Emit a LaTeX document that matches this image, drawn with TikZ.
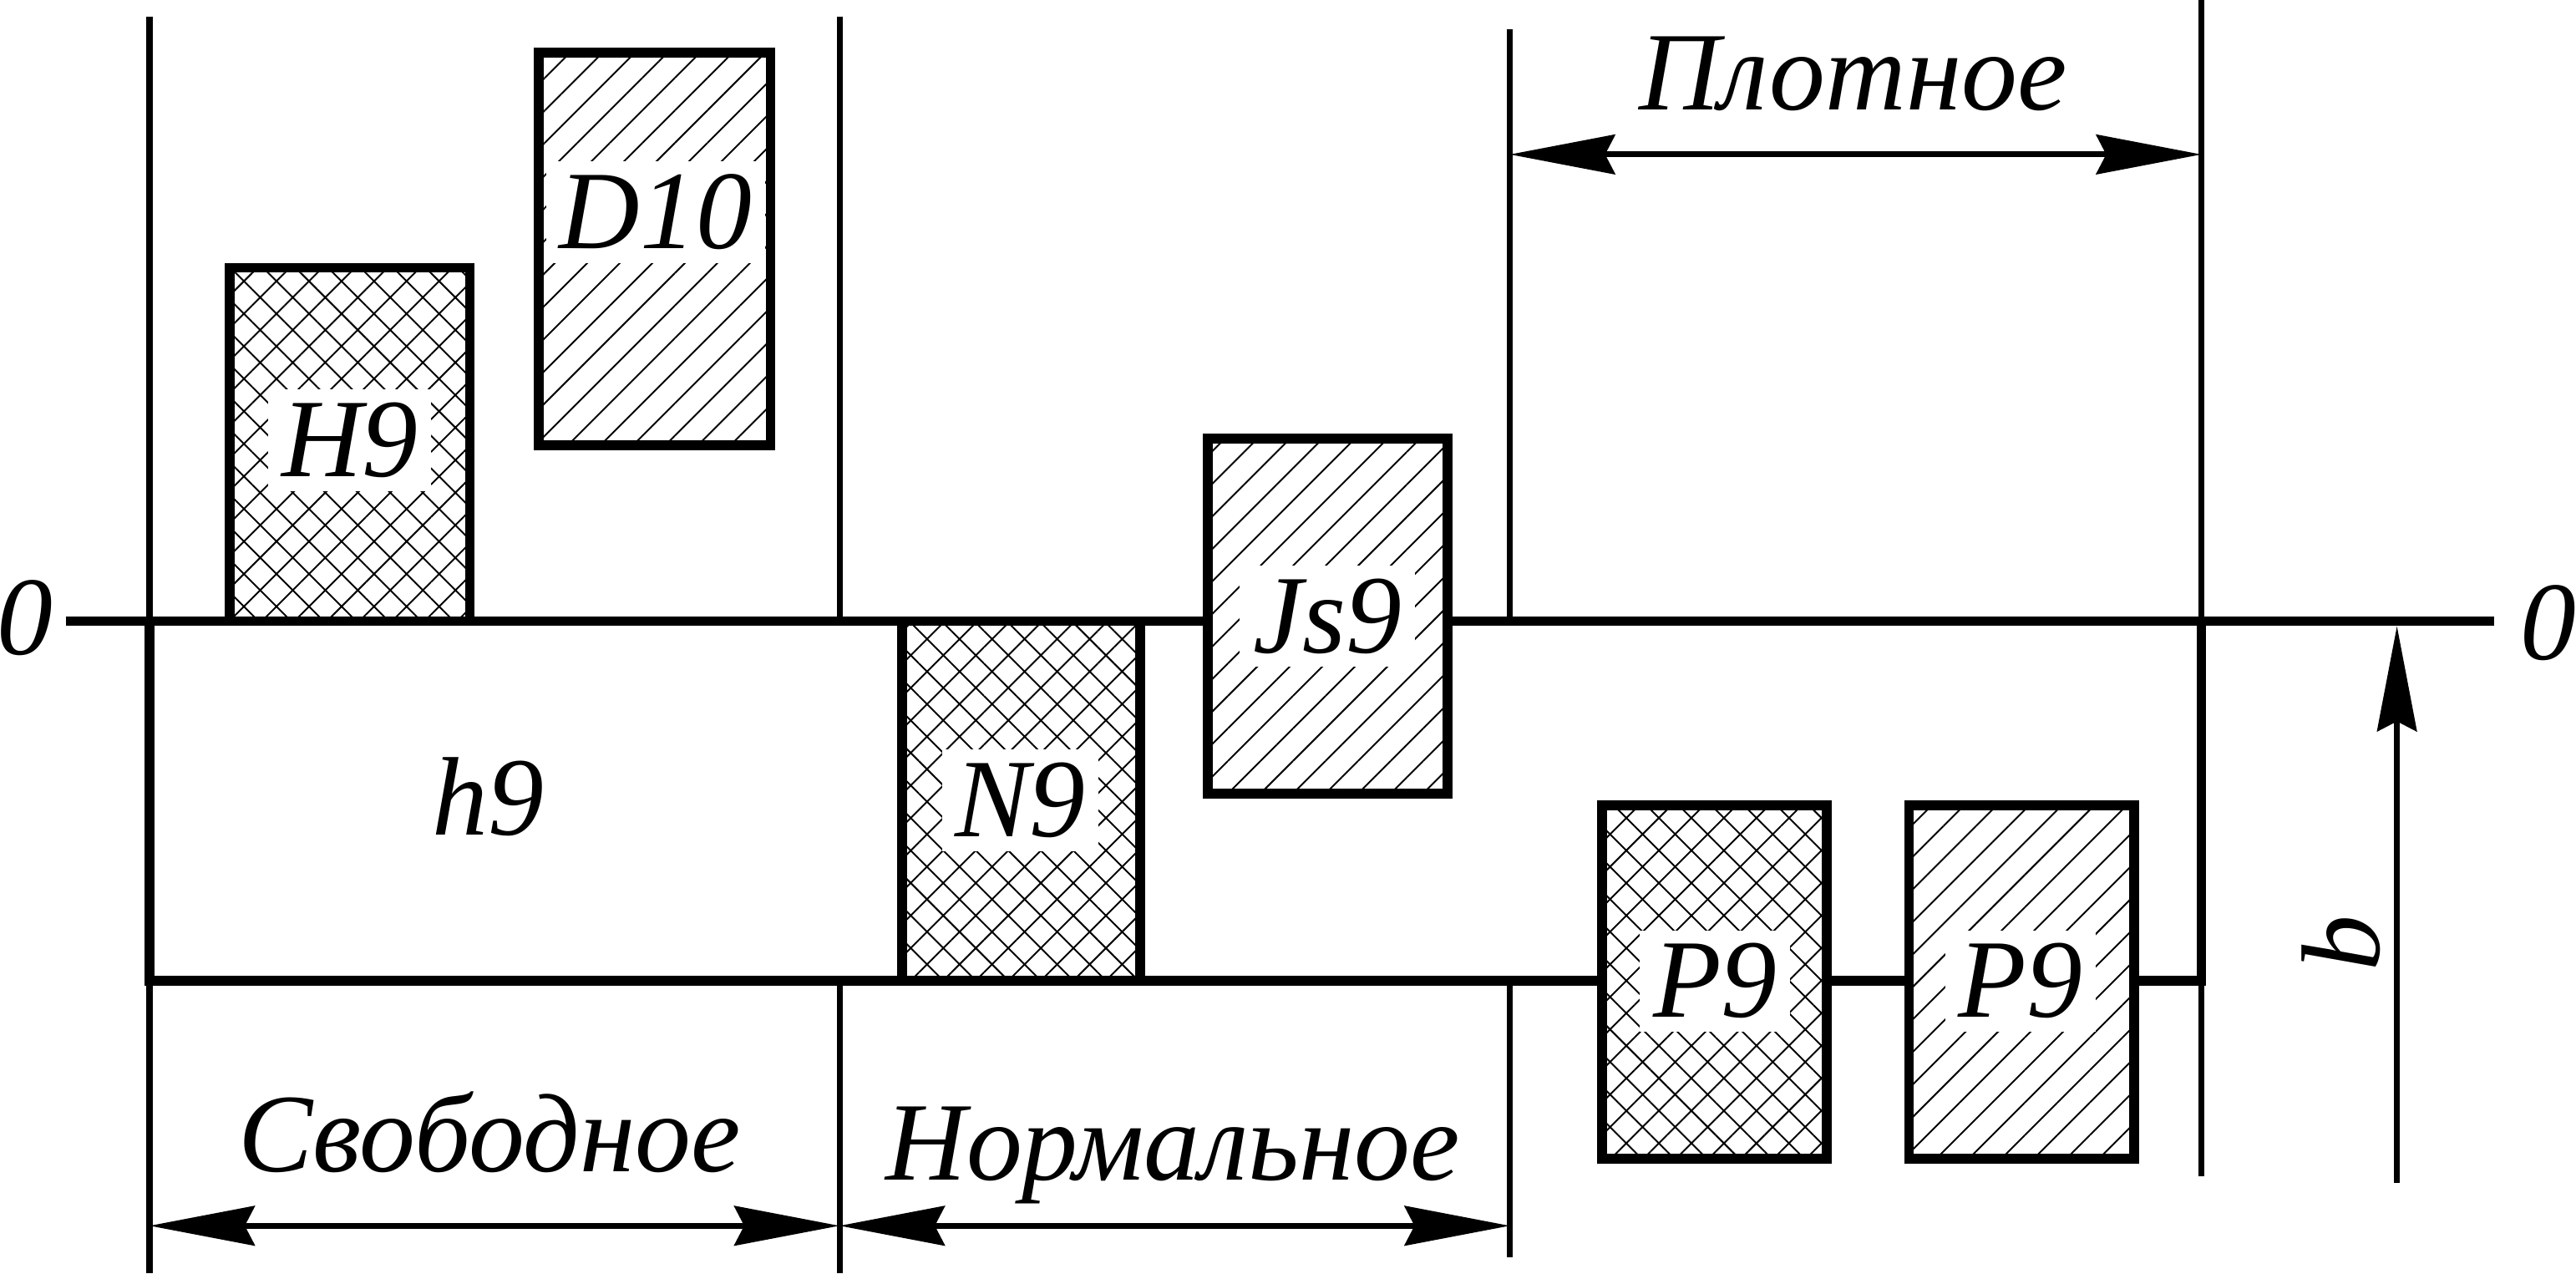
\documentclass[tikz,border=0pt]{standalone}
\usepackage{fontspec}
\setmainfont{Liberation Serif}
\usetikzlibrary{patterns.meta,arrows.meta}
\tikzset{
  thinln/.style={line width=1.8pt},
  thickln/.style={line width=3pt},
  crossbox/.style={thickln, preaction={fill=white}, pattern={Hatch[angle=45,distance=7pt,line width=0.5pt]}},
  slantbox/.style={thickln, preaction={fill=white}, pattern={Lines[angle=45,distance=7pt,line width=0.5pt]}},
  lbl/.style={fill=white, inner sep=4pt, font=\fontsize{34}{40}\selectfont\itshape},
  txt/.style={inner sep=0pt, font=\fontsize{34}{40}\selectfont\itshape},
  dimtip/.tip={Stealth[length=32pt,width=12pt,inset=3pt]},
  dimarr/.style={thinln, dimtip-dimtip},
  uparr/.style={thinln, -dimtip},
}
\begin{document}
\begin{tikzpicture}[x=0.5pt,y=-0.5pt]
\useasboundingbox (0,0) rectangle (1568,775);
% thin extension lines
\draw[thinln] (91,10) -- (91,378);
\draw[thinln] (91,597) -- (91,775);
\draw[thinln] (511,10) -- (511,378);
\draw[thinln] (511,597) -- (511,775);
\draw[thinln] (919,18) -- (919,378);
\draw[thinln] (919,597) -- (919,765);
\draw[thinln] (1340,0) -- (1340,378);
\draw[thinln] (1340,597) -- (1340,716);
% zero line
\draw[thickln] (40,378) -- (1518,378);
% shaft tolerance field h9
\draw[thickln] (91,378) rectangle (1340,597);
% hole tolerance fields
\draw[crossbox] (140,163) rectangle (286,378);
\draw[slantbox] (328,32) rectangle (469,271);
\draw[crossbox] (549,378) rectangle (694,597);
\draw[slantbox] (735,267) rectangle (881,483);
\draw[crossbox] (975,490) rectangle (1112,705);
\draw[slantbox] (1162,490) rectangle (1299,705);
% labels in fields
\node[lbl] (lH9) at (213,268) {H9};
\node[lbl] (lD10) at (399,129) {D10};
\node[lbl] (lN9) at (621,487) {N9};
\node[lbl] (lJs9) at (808,375) {Js9};
\node[lbl] (lP9a) at (1044,597) {P9};
\node[lbl] (lP9b) at (1230,597) {P9};
\node[txt] (lh9) at (297,485) {h9};
% zero labels
\node[txt] (z1) at (15,376) {0};
\node[txt] (z2) at (1551,379) {0};
% dimension arrows
\coordinate (s1) at (91,746);
\coordinate (s2) at (511,746);
\coordinate (n2) at (919,746);
\coordinate (p1) at (919,94);
\coordinate (p2) at (1340,94);
\coordinate (bbot) at (1459,720);
\coordinate (btop) at (1459,381);
\draw[dimarr] (s1) -- (s2);
\draw[dimarr] (s2) -- (n2);
\draw[dimarr] (p1) -- (p2);
\draw[uparr] (bbot) -- (btop);
\node[txt, anchor=base] (tS) at (298,713) {Свободное};
\node[txt, anchor=base] (tN) at (714,718) {Нормальное};
\node[txt, anchor=base] (tP) at (1128,67) {Плотное};
\node[txt, rotate=90] (tb) at (1425,574) {b};
\end{tikzpicture}
\end{document}
